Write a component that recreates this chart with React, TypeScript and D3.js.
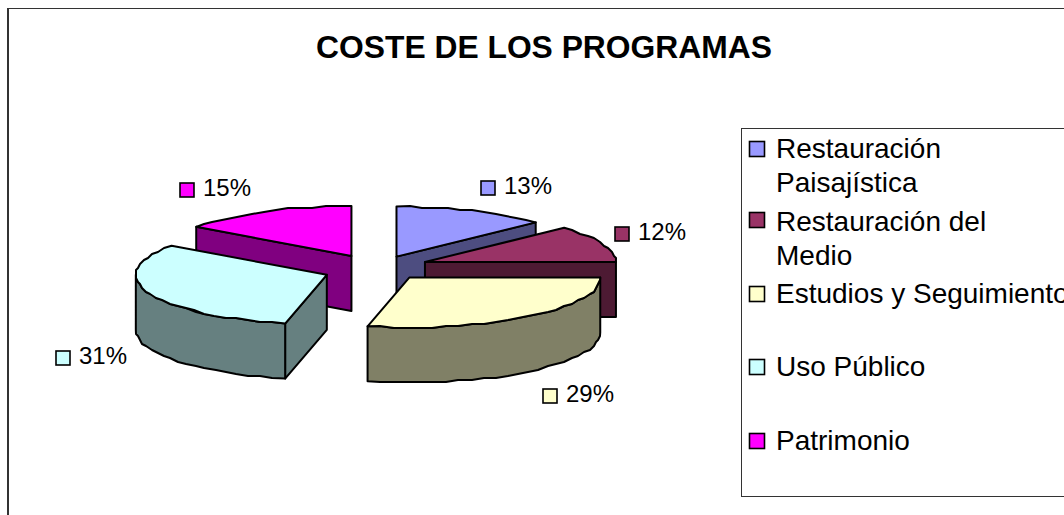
import React from "react";
import * as d3 from "d3";

const title = "COSTE DE LOS PROGRAMAS";
const categories = ["Restauración Paisajística", "Restauración del Medio", "Estudios y Seguimiento", "Uso Público", "Patrimonio"];
const legendLines = [["Restauración", "Paisajística"], ["Restauración del", "Medio"], ["Estudios y Seguimiento"], ["Uso Público"], ["Patrimonio"]];
const values = [13, 12, 28.5, 31.4, 15.1];
const percentLabels = ["13%", "12%", "29%", "31%", "15%"];
const topColors = ["#9999FF", "#993366", "#FFFFCC", "#CCFFFF", "#FF00FF"];
const wallColors = ["#4D4D80", "#4D1A33", "#808066", "#668080", "#800080"];
const labelSwatchX = [480, 614, 542, 55, 179];
const labelSwatchY = [180, 226, 388, 350, 182];
const legendFirstBaseline = [158, 231, 303, 376, 450];
const legendSwatchTop = [141, 212, 286, 359, 433];
const sliceNudgeX = [-1, 0, 0, -2, -2];
const sliceNudgeY = [2, 0, 0, 3, 1];

const W = 1064, H = 515;
const cx = 377, cy = 267, rx = 191, ry = 50, depth = 55, explode = 0.27, grid = 2;
const FONT = "'Liberation Sans', Arial, sans-serif";

const xs = d3.scaleLinear().domain([-1, 1]).range([cx - rx, cx + rx]);
const ys = d3.scaleLinear().domain([-1, 1]).range([cy + ry, cy - ry]);
const line = d3.line();

const arcs = d3.pie<number>().sort(null).value((d) => d)(values).map((a, i) => ({ ...a, i }));

function Slice({ a }: { a: (typeof arcs)[number] }) {
  const mid = (a.startAngle + a.endAngle) / 2;
  const ox = explode * Math.sin(mid), oy = explode * Math.cos(mid);
  const pt = (t: number, r = 1, z = 0): [number, number] => [
    xs(ox + r * Math.sin(t)) + sliceNudgeX[a.i],
    ys(oy + r * Math.cos(t)) + z + sliceNudgeY[a.i],
  ];
  // rim is faceted: samples snapped to a coarse pixel grid, ends kept exact
  const rim = (t0: number, t1: number, z = 0): [number, number][] => {
    const n = Math.max(1, Math.ceil((t1 - t0) / 0.07));
    return d3.range(n + 1).map((k) => {
      const p = pt(t0 + ((t1 - t0) * k) / n, 1, z);
      if (k === 0 || k === n) return p;
      return [Math.round(p[0] / grid) * grid, Math.round(p[1] / grid) * grid] as [number, number];
    });
  };
  const apex = pt(0, 0);
  const apexLow = pt(0, 0, depth);
  const top = line([apex, ...rim(a.startAngle, a.endAngle)])! + "Z";
  const walls: string[] = [];
  if (Math.sin(a.startAngle) < -1e-6) {
    walls.push(line([apex, pt(a.startAngle), pt(a.startAngle, 1, depth), apexLow])! + "Z");
  }
  if (Math.sin(a.endAngle) > 1e-6) {
    walls.push(line([apex, pt(a.endAngle), pt(a.endAngle, 1, depth), apexLow])! + "Z");
  }
  const f0 = Math.max(a.startAngle, Math.PI / 2), f1 = Math.min(a.endAngle, (3 * Math.PI) / 2);
  if (f1 > f0) {
    walls.push(line([...rim(f0, f1), ...rim(f0, f1, depth).reverse()])! + "Z");
  }
  const common = { stroke: "#000", strokeWidth: 2, strokeLinejoin: "round" as const };
  return (
    <g>
      {walls.map((d, k) => (
        <path key={k} d={d} fill={wallColors[a.i]} {...common} />
      ))}
      <path d={top} fill={topColors[a.i]} {...common} />
    </g>
  );
}

export default function App() {
  const order = arcs.slice().sort((p, q) =>
    d3.descending(Math.cos((p.startAngle + p.endAngle) / 2), Math.cos((q.startAngle + q.endAngle) / 2))
  );
  return (
    <svg
      width={W}
      height={H}
      viewBox={`0 0 ${W} ${H}`}
      style={{ position: "absolute", left: 0, top: 0, background: "#fff", fontFamily: FONT }}
    >
      <line x1={8} x2={W} y1={8.5} y2={8.5} stroke="#333" strokeWidth={1} />
      <line x1={8} x2={8} y1={8} y2={H} stroke="#333" strokeWidth={2} />
      <text x={544} y={58} textAnchor="middle" fontSize={31.8} fontWeight={700} fill="#000">{title}</text>

      {order.map((a) => (
        <Slice key={a.i} a={a} />
      ))}

      {categories.map((c, i) => (
        <g key={c}>
          <rect x={labelSwatchX[i] + 1} y={labelSwatchY[i] + 1} width={14} height={14} fill={topColors[i]} stroke="#000" strokeWidth={1.6} />
          <text x={labelSwatchX[i] + 24} y={labelSwatchY[i] + 14} fontSize={24} fill="#000">{percentLabels[i]}</text>
        </g>
      ))}

      <rect x={741.5} y={128.5} width={W} height={368} fill="#fff" stroke="#333" strokeWidth={1} />
      {categories.map((c, i) => (
        <g key={c}>
          <rect x={749.5} y={legendSwatchTop[i] + 0.5} width={15} height={15} fill={topColors[i]} stroke="#000" strokeWidth={1.6} />
          {legendLines[i].map((l, k) => (
            <text key={k} x={776} y={legendFirstBaseline[i] + k * 33.5} fontSize={28} fill="#000">{l}</text>
          ))}
        </g>
      ))}
    </svg>
  );
}
